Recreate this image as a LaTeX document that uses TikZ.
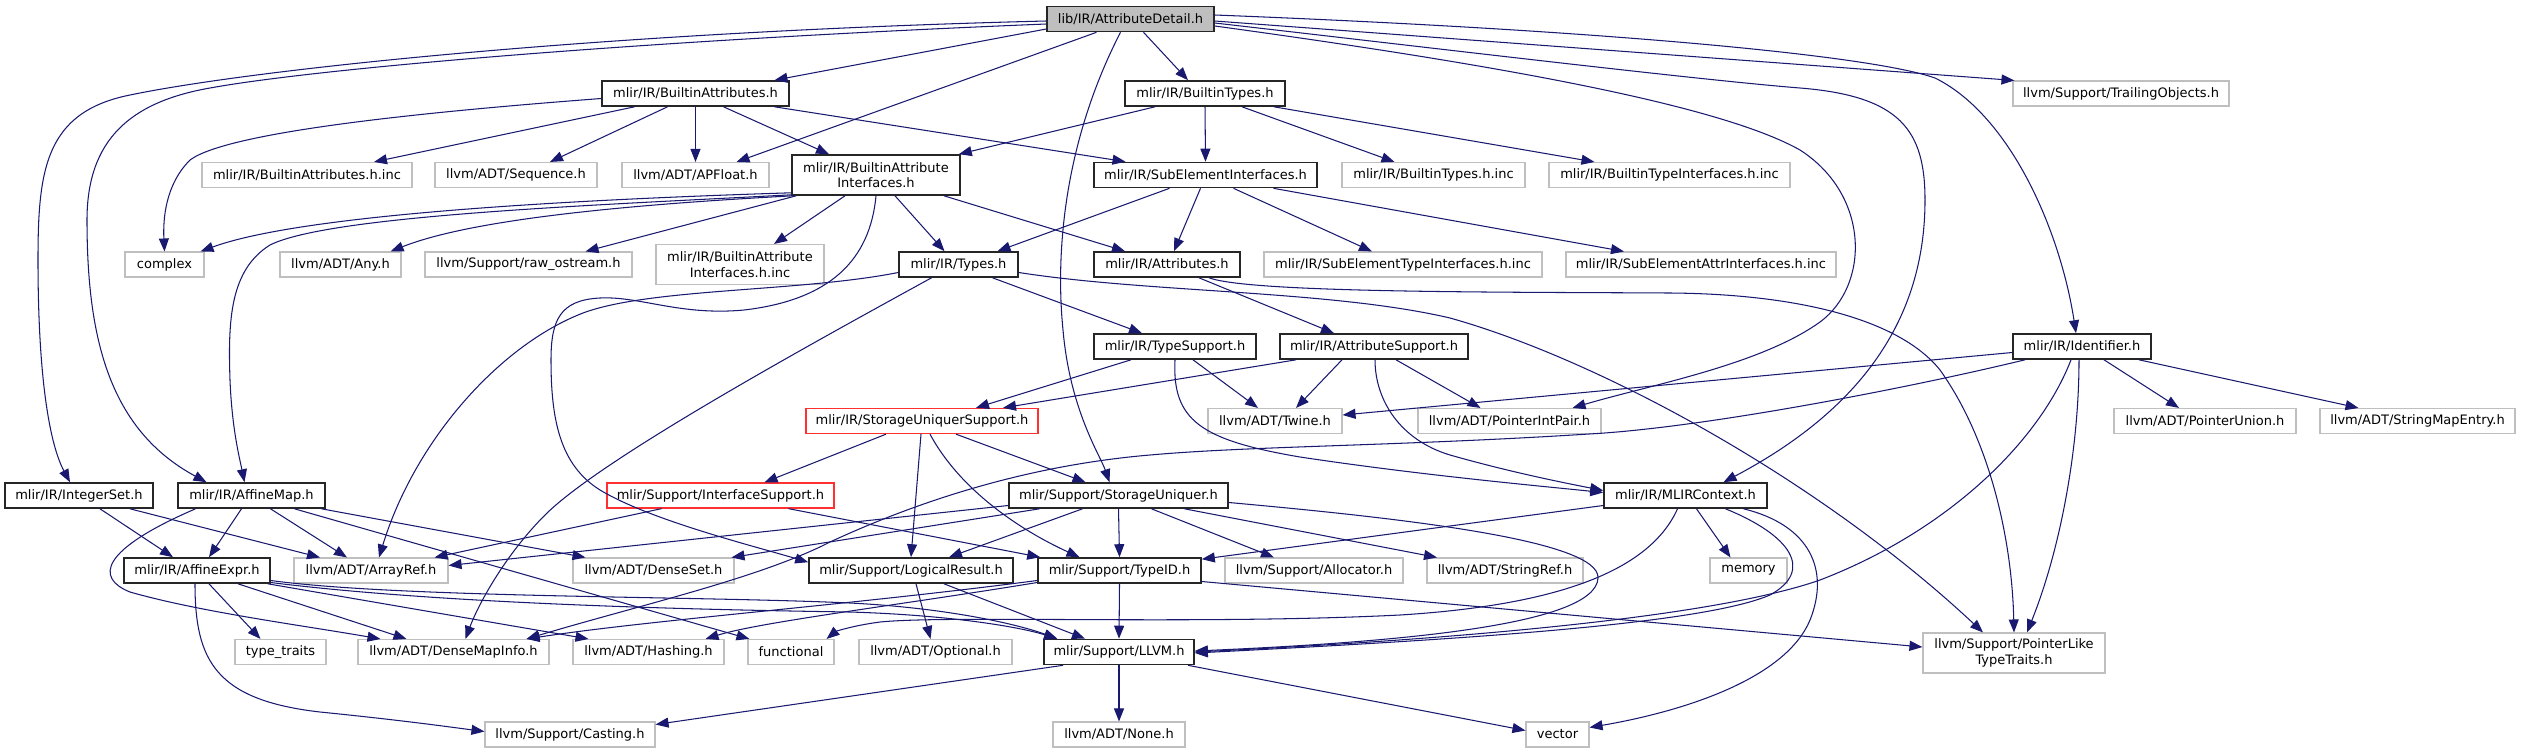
\documentclass[tikz,border=0pt]{standalone}
\usepackage{fontspec}
\setmainfont{DejaVu Sans}
\usetikzlibrary{arrows.meta}
\definecolor{edgec}{HTML}{191970}
\definecolor{extc}{HTML}{BFBFBF}
\definecolor{truncc}{HTML}{FF3030}
\definecolor{rootf}{HTML}{BFBFBF}
\definecolor{intc}{HTML}{262626}
\begin{document}
\begin{tikzpicture}[x=1pt,y=-1pt,
  box/.style={rectangle, inner xsep=2pt, inner ysep=3pt, minimum height=25pt, line width=1.1pt,
    font=\fontsize{13pt}{15.5pt}\selectfont, text=black, fill=white, align=center},
  int/.style={box, draw=intc, line width=1.6pt},
  ext/.style={box, draw=extc},
  trn/.style={box, draw=truncc, line width=1.3pt},
  rootb/.style={box, draw=intc, line width=1.6pt, fill=rootf},
  twoline/.style={minimum height=40pt},
  e/.style={draw=edgec, line width=1.05pt, -{Triangle[length=13pt,width=10pt]}}]
\fill[white] (0,0) rectangle (2523,753);
\useasboundingbox (0,0) rectangle (2523,753);

% ---------- nodes ----------
\node[rootb, minimum width=167pt] (root) at (1130.5,19) {lib/IR/AttributeDetail.h};
\node[int, minimum width=187pt] (battr) at (695.5,93.5) {mlir/IR/BuiltinAttributes.h};
\node[int, minimum width=160pt] (btypes) at (1205,93.5) {mlir/IR/BuiltinTypes.h};
\node[ext, minimum width=216pt] (trail) at (2121,93.5) {llvm/Support/TrailingObjects.h};
\node[ext, minimum width=210pt] (battrinc) at (307,175) {mlir/IR/BuiltinAttributes.h.inc};
\node[ext, minimum width=162pt] (seq) at (516,175) {llvm/ADT/Sequence.h};
\node[ext, minimum width=147pt] (apfloat) at (695.5,175) {llvm/ADT/APFloat.h};
\node[int, twoline, minimum width=168pt] (bai) at (876,175) {mlir/IR/BuiltinAttribute\\Interfaces.h};
\node[int, minimum width=223pt] (subel) at (1205.5,175) {mlir/IR/SubElementInterfaces.h};
\node[ext, minimum width=183pt] (btypesinc) at (1433.5,175) {mlir/IR/BuiltinTypes.h.inc};
\node[ext, minimum width=241pt] (btypeiface) at (1669.5,175) {mlir/IR/BuiltinTypeInterfaces.h.inc};
\node[ext, minimum width=79pt] (complex) at (164.5,264.5) {complex};
\node[ext, minimum width=121pt] (any) at (340.5,264.5) {llvm/ADT/Any.h};
\node[ext, minimum width=207pt] (rawos) at (528.5,264.5) {llvm/Support/raw\_ostream.h};
\node[ext, twoline, minimum width=168pt] (baiinc) at (740,264.5) {mlir/IR/BuiltinAttribute\\Interfaces.h.inc};
\node[int, minimum width=119pt] (types) at (958.5,264.5) {mlir/IR/Types.h};
\node[int, minimum width=146pt] (attrs) at (1167,264.5) {mlir/IR/Attributes.h};
\node[ext, minimum width=278pt] (subtypeinc) at (1403,264.5) {mlir/IR/SubElementTypeInterfaces.h.inc};
\node[ext, minimum width=270pt] (subattrinc) at (1701,264.5) {mlir/IR/SubElementAttrInterfaces.h.inc};
\node[int, minimum width=162pt] (typesup) at (1175,346.5) {mlir/IR/TypeSupport.h};
\node[int, minimum width=188pt] (attrsup) at (1374,346.5) {mlir/IR/AttributeSupport.h};
\node[int, minimum width=138pt] (ident) at (2082,346.5) {mlir/IR/Identifier.h};
\node[trn, minimum width=232pt] (sus) at (922,421) {mlir/IR/StorageUniquerSupport.h};
\node[ext, minimum width=134pt] (twine) at (1275,421) {llvm/ADT/Twine.h};
\node[ext, minimum width=183pt] (pip) at (1509.5,421) {llvm/ADT/PointerIntPair.h};
\node[ext, minimum width=182pt] (punion) at (2205,421) {llvm/ADT/PointerUnion.h};
\node[ext, minimum width=195pt] (smentry) at (2417.5,421) {llvm/ADT/StringMapEntry.h};
\node[int, minimum width=148pt] (intset) at (79,495.5) {mlir/IR/IntegerSet.h};
\node[int, minimum width=147pt] (affmap) at (251.5,495.5) {mlir/IR/AffineMap.h};
\node[trn, minimum width=227pt] (ifsup) at (720.5,495.5) {mlir/Support/InterfaceSupport.h};
\node[int, minimum width=219pt] (su) at (1118.5,495.5) {mlir/Support/StorageUniquer.h};
\node[int, minimum width=163pt] (mlirctx) at (1685.5,495.5) {mlir/IR/MLIRContext.h};
\node[int, minimum width=146pt] (affexpr) at (197,570.5) {mlir/IR/AffineExpr.h};
\node[ext, minimum width=154pt] (arrayref) at (371,570.5) {llvm/ADT/ArrayRef.h};
\node[ext, minimum width=161pt] (denseset) at (653.5,570.5) {llvm/ADT/DenseSet.h};
\node[int, minimum width=204pt] (logres) at (911,570.5) {mlir/Support/LogicalResult.h};
\node[int, minimum width=163pt] (typeid) at (1119.5,570.5) {mlir/Support/TypeID.h};
\node[ext, minimum width=178pt] (alloc) at (1314,570.5) {llvm/Support/Allocator.h};
\node[ext, minimum width=156pt] (strref) at (1505,570.5) {llvm/ADT/StringRef.h};
\node[ext, minimum width=77pt] (memory) at (1748.5,570.5) {memory};
\node[ext, minimum width=91pt] (traits) at (280.5,652) {type\_traits};
\node[ext, minimum width=191pt] (dmi) at (453.5,652) {llvm/ADT/DenseMapInfo.h};
\node[ext, minimum width=151pt] (hashing) at (648.5,652) {llvm/ADT/Hashing.h};
\node[ext, minimum width=86pt] (functional) at (791,652) {functional};
\node[ext, minimum width=153pt] (optional) at (935.5,652) {llvm/ADT/Optional.h};
\node[int, minimum width=150pt] (llvm) at (1119,652) {mlir/Support/LLVM.h};
\node[ext, twoline, minimum width=182pt] (pltt) at (2014,653) {llvm/Support/PointerLike\\TypeTraits.h};
\node[ext, minimum width=170pt] (casting) at (570,734.5) {llvm/Support/Casting.h};
\node[ext, minimum width=132pt] (none) at (1119,734.5) {llvm/ADT/None.h};
\node[ext, minimum width=63pt] (vector) at (1557.5,734.5) {vector};

% ---------- edges ----------
% root
\draw[e] ([yshift=-2pt]root.west) .. controls (600,32) and (250,70) .. (130,95) .. controls (45,112) and (38,170) .. (38,260) .. controls (38,380) and (50,445) .. ([xshift=-9pt]intset.north);
\draw[e] ([yshift=-5pt]root.west) .. controls (650,40) and (320,68) .. (210,88) .. controls (130,102) and (87,140) .. (87,220) .. controls (87,340) and (110,430) .. ([xshift=-45pt]affmap.north);
\draw[e] ([yshift=-10pt]root.west) -- ([xshift=79pt]battr.north);
\draw[e] ([xshift=-34pt]root.south) -- ([xshift=41pt]apfloat.north);
\draw[e] ([xshift=-10pt]root.south) .. controls (1065,140) and (1055,250) .. (1063,330) .. controls (1070,410) and (1100,455) .. ([xshift=-9pt]su.north);
\draw[e] ([xshift=13pt]root.south) -- ([xshift=-17pt]btypes.north);
\draw[e] ([yshift=-2pt]root.east) -- ([xshift=2pt]trail.north west);
\draw[e] ([yshift=4pt]root.east) .. controls (1600,30) and (1870,55) .. (1935,78) .. controls (2010,115) and (2060,230) .. ([xshift=-6pt]ident.north);
\draw[e] ([yshift=-4pt]root.east) .. controls (1450,50) and (1700,80) .. (1800,88) .. controls (1900,96) and (1925,130) .. (1925,200) .. controls (1925,320) and (1860,410) .. ([xshift=38pt]mlirctx.north);
\draw[e] ([yshift=-7pt]root.east) .. controls (1500,65) and (1720,105) .. (1800,150) .. controls (1870,195) and (1870,285) .. (1820,322) .. controls (1760,365) and (1650,385) .. ([xshift=63pt]pip.north);
% BuiltinAttributes
\draw[e] ([yshift=-5pt]battr.west) .. controls (450,110) and (230,130) .. (190,160) .. controls (165,185) and (163,220) .. (complex.north);
\draw[e] ([xshift=-61pt]battr.south) -- ([xshift=67pt]battrinc.north);
\draw[e] ([xshift=-28pt]battr.south) -- ([xshift=34pt]seq.north);
\draw[e] (battr.south) -- (apfloat.north);
\draw[e] ([xshift=28pt]battr.south) -- ([xshift=-47pt]bai.north);
\draw[e] ([xshift=79pt]battr.south) -- ([xshift=-80pt]subel.north);
% BuiltinTypes
\draw[e] ([xshift=-50pt]btypes.south) -- ([xshift=-2pt]bai.north east);
\draw[e] (btypes.south) -- (subel.north);
\draw[e] ([xshift=37pt]btypes.south) -- ([xshift=-39pt]btypesinc.north);
\draw[e] ([xshift=69pt]btypes.south) -- ([xshift=-75pt]btypeiface.north);
% BuiltinAttributeInterfaces
\draw[e] ([yshift=3pt]bai.south west) .. controls (560,200) and (300,215) .. ([xshift=-4pt]complex.north east);
\draw[e] ([xshift=2pt]bai.south west) .. controls (620,205) and (470,220) .. ([xshift=-11pt]any.north east);
\draw[e] ([yshift=1pt]bai.south west) .. controls (600,205) and (330,215) .. (270,245) .. controls (230,270) and (228,320) .. (230,380) .. controls (232,430) and (240,460) .. ([xshift=-7pt]affmap.north);
\draw[e] ([xshift=5pt]bai.south west) -- ([xshift=57pt]rawos.north);
\draw[e] ([xshift=-31pt]bai.south) -- ([xshift=34pt]baiinc.north);
\draw[e] ([xshift=19pt]bai.south) -- ([xshift=-14pt]types.north);
\draw[e] ([xshift=68pt]bai.south) -- ([xshift=-42pt]attrs.north);
\draw[e] (bai.south) .. controls (870,260) and (830,300) .. (744,310) .. controls (680,316) and (640,296) .. (600,298) .. controls (560,300) and (551,320) .. (551,360) .. controls (551,420) and (560,465) .. (600,490) .. controls (650,520) and (750,545) .. ([yshift=-5pt]logres.north west);
% Types
\draw[e] ([xshift=34pt]types.south) -- ([xshift=-33pt]typesup.north);
\draw[e] ([yshift=-8pt]types.west) .. controls (800,292) and (650,288) .. (583,313) .. controls (500,345) and (415,440) .. ([xshift=8pt]arrayref.north);
\draw[e] ([xshift=-27pt]types.south) .. controls (800,350) and (600,460) .. (545,515) .. controls (505,555) and (478,605) .. ([xshift=12pt]dmi.north);
\draw[e] ([yshift=-8pt]types.east) .. controls (1150,293) and (1330,290) .. (1450,318) .. controls (1600,360) and (1820,480) .. ([xshift=-31pt]pltt.north);
% Attributes
\draw[e] ([xshift=32pt]attrs.south) -- ([xshift=-40pt]attrsup.north);
\draw[e] ([xshift=42pt]attrs.south) .. controls (1250,293) and (1500,292) .. (1670,293) .. controls (1800,294) and (1900,320) .. (1940,370) .. controls (1990,440) and (2012,540) .. (pltt.north);
% SubElementInterfaces
\draw[e] ([xshift=-36pt]subel.south) -- ([xshift=39pt]types.north);
\draw[e] ([xshift=-5pt]subel.south) -- ([xshift=7pt]attrs.north);
\draw[e] ([xshift=28pt]subel.south) -- ([xshift=-31pt]subtypeinc.north);
\draw[e] ([xshift=68pt]subel.south) -- ([xshift=-77pt]subattrinc.north);
% TypeSupport
\draw[e] ([xshift=-44pt]typesup.south) -- ([xshift=54pt]sus.north);
\draw[e] ([xshift=18pt]typesup.south) -- ([xshift=-17pt]twine.north);
\draw[e] (typesup.south) .. controls (1172,420) and (1200,440) .. (1300,457) .. controls (1420,475) and (1530,485) .. ([yshift=3pt]mlirctx.west);
% AttributeSupport
\draw[e] ([xshift=-78pt]attrsup.south) -- ([xshift=81pt]sus.north);
\draw[e] ([xshift=-32pt]attrsup.south) -- ([xshift=21pt]twine.north);
\draw[e] ([xshift=22pt]attrsup.south) -- ([xshift=-29pt]pip.north);
\draw[e] ([xshift=1pt]attrsup.south) .. controls (1375,400) and (1400,440) .. (1450,455) .. controls (1510,472) and (1560,482) .. ([yshift=5pt]mlirctx.west);
% Identifier
\draw[e] ([yshift=-6pt]ident.west) -- ([yshift=6pt]twine.east);
\draw[e] ([xshift=-57pt]ident.south) .. controls (1900,390) and (1700,428) .. (1589,434) .. controls (1400,446) and (1250,446) .. (1150,455) .. controls (1020,466) and (910,505) .. (830,542) .. controls (760,578) and (640,605) .. ([xshift=-23pt]dmi.north east);
\draw[e] ([xshift=22pt]ident.south) -- ([xshift=-26pt]punion.north);
\draw[e] ([xshift=57pt]ident.south) -- ([xshift=-59pt]smentry.north);
\draw[e] ([xshift=-11pt]ident.south) .. controls (2040,440) and (1950,530) .. (1820,580) .. controls (1700,622) and (1400,642) .. (llvm.east);
\draw[e] ([xshift=-3pt]ident.south) .. controls (2079,450) and (2060,550) .. ([xshift=13pt]pltt.north);
% StorageUniquerSupport
\draw[e] ([xshift=-36pt]sus.south) -- ([xshift=44pt]ifsup.north);
\draw[e] ([xshift=34pt]sus.south) -- ([xshift=-33pt]su.north);
\draw[e] ([xshift=-1pt]sus.south) -- (logres.north);
\draw[e] ([xshift=8pt]sus.south) .. controls (960,490) and (1020,530) .. ([xshift=-40pt]typeid.north);
% InterfaceSupport
\draw[e] ([xshift=-59pt]ifsup.south) -- ([xshift=-14pt]arrayref.north east);
\draw[e] ([xshift=68pt]ifsup.south) -- ([xshift=3pt]typeid.north west);
% StorageUniquer
\draw[e] ([yshift=-10pt]su.west) -- ([yshift=5pt]arrayref.east);
\draw[e] ([xshift=-79pt]su.south) -- ([xshift=78pt]denseset.north);
\draw[e] ([xshift=-36pt]su.south) -- ([xshift=38pt]logres.north);
\draw[e] (su.south) -- (typeid.north);
\draw[e] ([xshift=33pt]su.south) -- ([xshift=-40pt]alloc.north);
\draw[e] ([xshift=66pt]su.south) -- ([xshift=-68pt]strref.north);
\draw[e] ([yshift=-7pt]su.east) .. controls (1400,518) and (1600,540) .. (1598,578) .. controls (1596,625) and (1400,642) .. ([yshift=1pt]llvm.east);
% MLIRContext
\draw[e] ([yshift=-10pt]mlirctx.west) -- ([yshift=-2pt]typeid.north east);
\draw[e] ([xshift=11pt]mlirctx.south) -- ([xshift=-18pt]memory.north);
\draw[e] ([xshift=-8pt]mlirctx.south) .. controls (1650,570) and (1560,605) .. (1400,615) .. controls (1200,625) and (950,615) .. (880,622) .. controls (850,626) and (835,632) .. ([xshift=-8pt]functional.north east);
\draw[e] ([xshift=40pt]mlirctx.south) .. controls (1790,535) and (1815,570) .. (1770,595) .. controls (1700,625) and (1450,640) .. ([yshift=-1pt]llvm.east);
\draw[e] ([xshift=58pt]mlirctx.south) .. controls (1810,525) and (1830,570) .. (1810,620) .. controls (1785,680) and (1680,712) .. ([yshift=-6pt]vector.north east);
% AffineMap
\draw[e] ([xshift=-10pt]affmap.south) -- ([xshift=12pt]affexpr.north);
\draw[e] ([xshift=19pt]affmap.south) -- ([xshift=-24pt]arrayref.north);
\draw[e] ([xshift=70pt]affmap.south) -- ([xshift=-68pt]denseset.north);
\draw[e] ([xshift=-56pt]affmap.south) .. controls (100,550) and (95,578) .. (130,592) .. controls (200,612) and (300,625) .. ([xshift=-73pt]dmi.north);
\draw[e] ([xshift=43pt]affmap.south) -- ([xshift=2pt]functional.north west);
% IntegerSet
\draw[e] ([xshift=21pt]intset.south) -- ([xshift=-24pt]affexpr.north);
\draw[e] ([xshift=51pt]intset.south) -- ([xshift=-51pt]arrayref.north);
% AffineExpr
\draw[e] ([xshift=-2pt]affexpr.south) .. controls (195,660) and (215,700) .. (320,712) .. controls (400,720) and (450,727) .. ([yshift=3pt]casting.west);
\draw[e] ([xshift=12pt]affexpr.south) -- ([xshift=-20pt]traits.north);
\draw[e] ([xshift=41pt]affexpr.south) -- ([xshift=-47pt]dmi.north);
\draw[e] ([xshift=-3pt]affexpr.south east) -- ([xshift=-60pt]hashing.north);
\draw[e] ([yshift=-10pt]affexpr.east) .. controls (400,598) and (700,596) .. (850,603) .. controls (950,608) and (1020,625) .. ([xshift=14pt]llvm.north west);
\draw[e] ([yshift=-12pt]affexpr.east) .. controls (450,605) and (720,610) .. (850,612) .. controls (950,615) and (1020,627) .. ([xshift=14pt]llvm.north west);
% TypeID
\draw[e] ([yshift=-10pt]typeid.west) .. controls (850,605) and (650,620) .. ([xshift=-23pt]dmi.north east);
\draw[e] ([yshift=-12pt]typeid.west) .. controls (900,605) and (760,622) .. ([xshift=-19pt]hashing.north east);
\draw[e] (typeid.south) -- (llvm.north);
\draw[e] ([yshift=-11pt]typeid.east) -- ([yshift=6pt]pltt.west);
% LogicalResult
\draw[e] ([xshift=5pt]logres.south) -- ([xshift=-5pt]optional.north);
\draw[e] ([xshift=33pt]logres.south) -- ([xshift=-34pt]llvm.north);
% LLVM
\draw[e] ([xshift=-56pt]llvm.south) -- ([yshift=10pt]casting.east);
\draw[e] (llvm.south) -- (none.north);
\draw[e] ([xshift=69pt]llvm.south) -- ([yshift=4pt]vector.west);
\end{tikzpicture}
\end{document}
